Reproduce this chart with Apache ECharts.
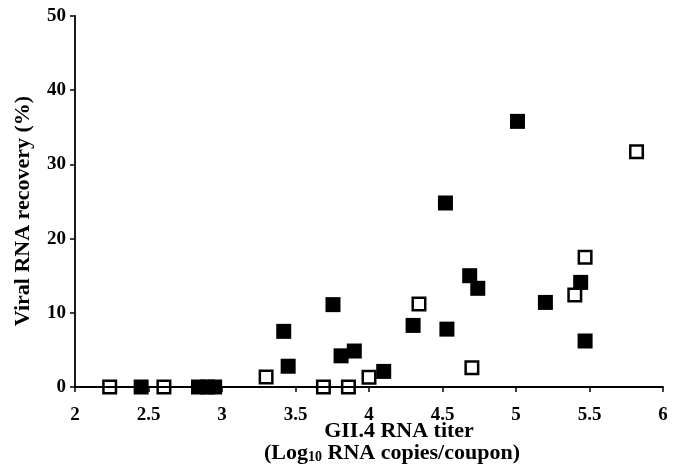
<!DOCTYPE html>
<html>
<head>
<meta charset="utf-8">
<script src="https://cdn.jsdelivr.net/npm/echarts@6/dist/echarts.min.js"></script>
<style>
  html, body { margin: 0; padding: 0; background: #fff; }
  #chart { width: 680px; height: 466px; }
</style>
</head>
<body>
<div id="chart"></div>
<script>
  // filled squares: [log10 titer, recovery %]
  var filledX = [2.45, 2.84, 2.9, 2.95, 3.42, 3.45, 3.755, 3.81, 3.9, 4.1, 4.3, 4.52, 4.53, 4.685, 4.74, 5.01, 5.2, 5.44, 5.47]
  var filledY = [0, 0, 0, 0, 7.5, 2.8, 11.1, 4.2, 4.85, 2.1, 8.3, 24.8, 7.8, 15.0, 13.3, 35.8, 11.4, 14.1, 6.2]
  // open squares
  var openX = [2.236, 2.605, 3.3, 3.69, 3.86, 4.0, 4.34, 4.7, 5.4, 5.47, 5.82]
  var openY = [0, 0, 1.35, 0, 0, 1.3, 11.2, 2.6, 12.4, 17.5, 31.7]

  var xTicks = ['2', '2.5', '3', '3.5', '4', '4.5', '5', '5.5', '6']
  var yTicks = ['0', '10', '20', '30', '40', '50']

  function pairs(xs, ys) {
    var out = []
    for (var i = 0; i < xs.length; i++) {
      out.push([xs[i], ys[i]])
    }
    return out
  }

  var font = 'Liberation Serif'
  var chart = echarts.init(document.getElementById('chart'))

  chart.setOption({
    animation: false,
    backgroundColor: '#ffffff',
    grid: {
      left: 75,
      right: 17,
      top: 16,
      bottom: 79,
    },
    xAxis: {
      type: 'value',
      min: 2,
      max: 6,
      interval: 0.5,
      axisLine: { onZero: true, lineStyle: { color: '#000', width: 1.8 } },
      axisTick: { show: true, length: 5, lineStyle: { color: '#000', width: 1.5 } },
      axisLabel: {
        margin: 19,
        color: '#000',
        fontFamily: font,
        fontWeight: 'bold',
        fontSize: 19,
        formatter: function (v) {
          var s = String(v)
          return xTicks.indexOf(s) >= 0 ? s : ''
        },
      },
      splitLine: { show: false },
    },
    yAxis: {
      type: 'value',
      min: 0,
      max: 50,
      interval: 10,
      axisLine: { show: true, lineStyle: { color: '#000', width: 1.8 } },
      axisTick: { show: true, length: 5, lineStyle: { color: '#000', width: 1.5 } },
      axisLabel: {
        margin: 9,
        color: '#000',
        fontFamily: font,
        fontWeight: 'bold',
        fontSize: 19,
        formatter: function (v) {
          var s = String(v)
          return yTicks.indexOf(s) >= 0 ? s : ''
        },
      },
      splitLine: { show: false },
    },
    graphic: [
      {
        type: 'text',
        x: 23,
        y: 211,
        rotation: Math.PI / 2,
        style: {
          text: 'Viral RNA recovery (%)',
          align: 'center',
          verticalAlign: 'middle',
          fill: '#000',
          fontFamily: font,
          fontWeight: 'bold',
          fontSize: 22,
        },
      },
      {
        type: 'text',
        x: 399,
        y: 431,
        style: {
          text: 'GII.4 RNA titer',
          align: 'center',
          verticalAlign: 'middle',
          fill: '#000',
          fontFamily: font,
          fontWeight: 'bold',
          fontSize: 22,
        },
      },
      {
        type: 'text',
        x: 392,
        y: 453,
        style: {
          text: '{m|(Log}{sub|10}{m| RNA copies/coupon)}',
          align: 'center',
          verticalAlign: 'middle',
          fill: '#000',
          rich: {
            m: {
              fontFamily: font,
              fontWeight: 'bold',
              fontSize: 22,
              lineHeight: 22,
              verticalAlign: 'middle',
            },
            sub: {
              fontFamily: font,
              fontWeight: 'bold',
              fontSize: 14,
              lineHeight: 22,
              verticalAlign: 'bottom',
              padding: [8, 0, 0, 0],
            },
          },
        },
      },
    ],
    series: [
      {
        name: 'filled',
        type: 'scatter',
        symbol: 'rect',
        symbolSize: 15,
        itemStyle: { color: '#000', opacity: 1 },
        data: pairs(filledX, filledY),
        z: 3,
      },
      {
        name: 'open',
        type: 'scatter',
        symbol: 'rect',
        symbolSize: 12.5,
        itemStyle: {
          color: 'rgba(255,255,255,0)',
          borderColor: '#000',
          borderWidth: 2.5,
          opacity: 1,
        },
        data: pairs(openX, openY),
        z: 4,
      },
    ],
  })
</script>
</body>
</html>
